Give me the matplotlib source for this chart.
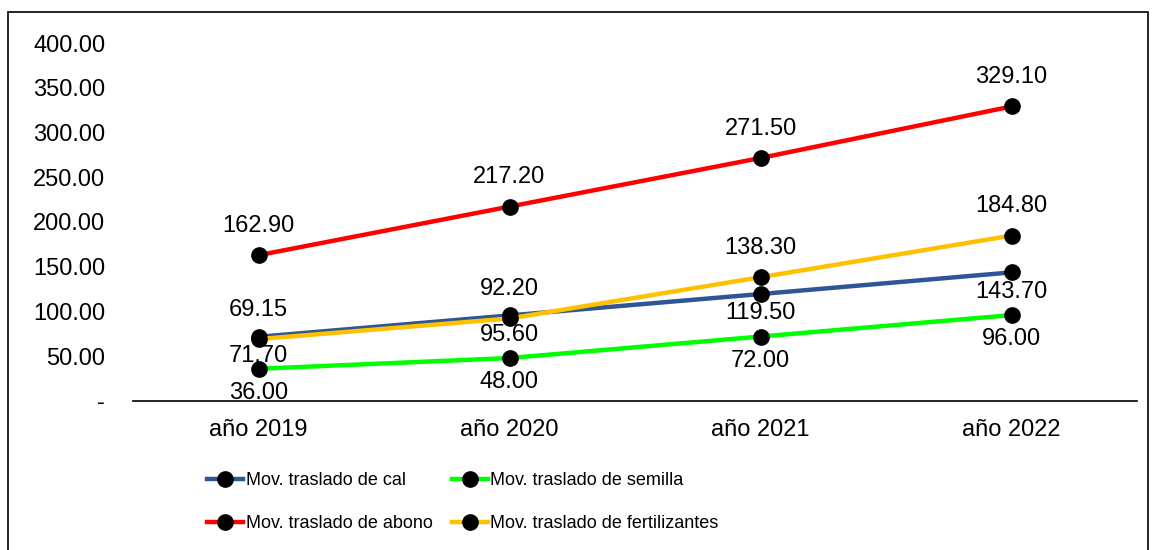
import matplotlib.pyplot as plt
from matplotlib.patches import Rectangle

plt.rcParams['font.family'] = ['Liberation Sans', 'DejaVu Sans']

years = ['año 2019', 'año 2020', 'año 2021', 'año 2022']
cal = [71.70, 95.60, 119.50, 143.70]
semilla = [36.00, 48.00, 72.00, 96.00]
abono = [162.90, 217.20, 271.50, 329.10]
fertilizantes = [69.15, 92.20, 138.30, 184.80]

fig = plt.figure(figsize=(11.52, 5.5), dpi=100)
ax = fig.add_axes([133 / 1152, 1 - 401 / 550, 1004 / 1152, 358 / 550])

x = range(len(years))
series = [
    ('Mov. traslado de cal', cal, '#2F5597', -14),
    ('Mov. traslado de semilla', semilla, '#00FF00', -17.5),
    ('Mov. traslado de abono', abono, '#FF0000', 21),
    ('Mov. traslado de fertilizantes', fertilizantes, '#FFC000', 21),
]
handles = {}
for name, vals, color, off in series:
    h, = ax.plot(x, vals, color=color, lw=3.2, marker='o', ms=11,
                 mfc='black', mec='black', label=name)
    handles[name] = h
    for xi, v in zip(x, vals):
        ax.annotate(f'{v:.2f}', (xi, v), xytext=(0, off), textcoords='offset points',
                    ha='center', va='center', fontsize=17)

# yellow is drawn over blue in the reference
handles['Mov. traslado de fertilizantes'].set_zorder(3)

ax.set_xlim(-0.5, 3.5)
ax.set_ylim(0, 400)
ax.set_xticks(list(x))
ax.set_xticklabels(years)
ax.set_yticks(range(0, 401, 50))
ax.set_yticklabels(['-'] + [f'{v:.2f}' for v in range(50, 401, 50)])
ax.tick_params(axis='both', length=0, labelsize=17)
ax.tick_params(axis='x', pad=13)
ax.tick_params(axis='y', pad=20)
for s in ['left', 'right', 'top']:
    ax.spines[s].set_visible(False)
ax.spines['bottom'].set_linewidth(1.2)

order = ['Mov. traslado de cal', 'Mov. traslado de abono',
         'Mov. traslado de semilla', 'Mov. traslado de fertilizantes']
fig.legend([handles[n] for n in order], order, ncol=2, loc='upper left',
           bbox_to_anchor=(207 / 1152, 1 - 472 / 550), frameon=False,
           fontsize=13, handlelength=2.0, handletextpad=0.15,
           columnspacing=1.05, labelspacing=1.45, borderpad=0, borderaxespad=0)

fig.patches.append(Rectangle((8 / 1152, -0.02), 1140 / 1152, 1.02 - 12 / 550,
                             transform=fig.transFigure, fill=False,
                             edgecolor='black', lw=1.2))

fig.savefig('out.png', dpi=100)
